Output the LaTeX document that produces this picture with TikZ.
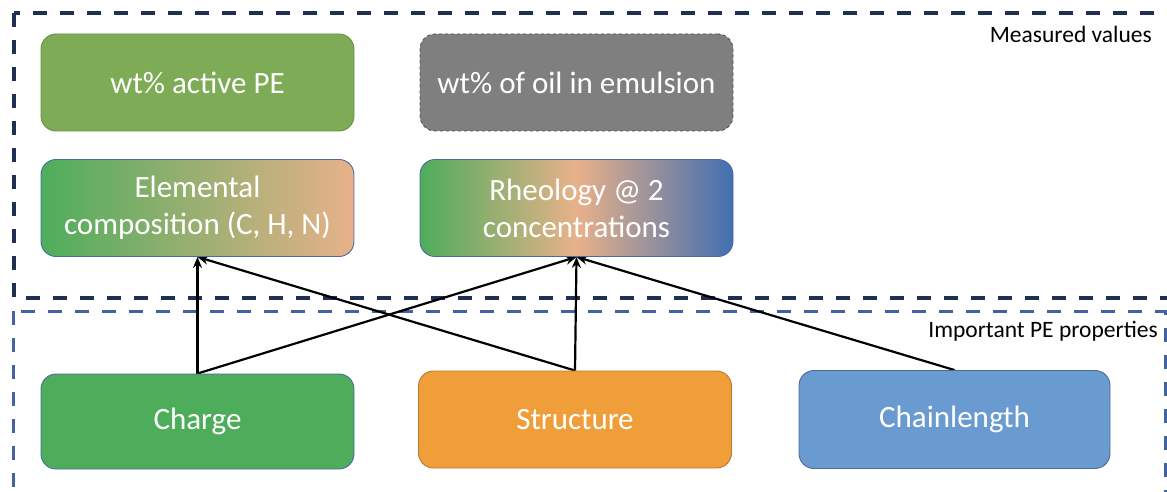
\documentclass[tikz,border=0pt]{standalone}
\usepackage{fontspec}
\setmainfont{Carlito}
\usetikzlibrary{arrows.meta}

\definecolor{frameA}{HTML}{1F3052}
\definecolor{frameB}{HTML}{4262A2}
\definecolor{leafgreen}{HTML}{7EAB55}
\definecolor{leafedge}{HTML}{6A9147}
\definecolor{slate}{HTML}{7F7F7F}
\definecolor{slateedge}{HTML}{505050}
\definecolor{grass}{HTML}{4EAD5B}
\definecolor{peach}{HTML}{E8B189}
\definecolor{steel}{HTML}{416FB0}
\definecolor{amber}{HTML}{F09E3A}
\definecolor{amberedge}{HTML}{B67B33}
\definecolor{sky}{HTML}{6A9BD0}
\definecolor{boxedge}{HTML}{4A6AA0}

\pgfdeclarelayer{frames}
\pgfdeclarelayer{links}
\pgfsetlayers{frames,links,main}

\tikzset{
  card/.style={rounded corners=15pt, minimum width=313pt, minimum height=97pt,
    text=white, align=center, font=\fontsize{31}{37}\selectfont,
    line width=0.9pt, inner sep=0pt},
  zone/.style={dash pattern=on 14pt off 13pt, line width=3.3pt},
  link/.style={line width=2.2pt, -{Stealth[length=11pt,width=9pt]}},
  tag/.style={font=\fontsize{23.5}{28}\selectfont, anchor=base east, inner sep=0pt}
}

\begin{document}
\begin{tikzpicture}[x=1pt,y=-1pt]
\useasboundingbox (0,0) rectangle (1167,492);
\clip (0,0) rectangle (1167,492);

% dashed grouping frames
\begin{pgfonlayer}{frames}
\draw[zone, frameA] (14,13) rectangle (1190,298);
\draw[zone, frameB, line width=3pt] (13,311) rectangle (1165,520);
\end{pgfonlayer}

\node[tag] (lblmeasured) at (1152,43) {Measured values};
\node[tag] (lblprops) at (1158,337) {Important PE properties};

% measured quantities
\node[card, fill=leafgreen, draw=leafedge] (active) at (197.5,82.5) {wt\% active PE};
\node[card, fill=slate, draw=slateedge, dashed] (oil) at (576.5,82.5) {wt\% of oil in emulsion};
\node[card, left color=grass, right color=peach, draw=boxedge] (elem) at (197.5,208)
  {Elemental\\composition (C, H, N)};
\node[card, left color=grass, right color=steel, middle color=peach, draw=boxedge] (rheo) at (576.5,208)
  {Rheology @ 2\\concentrations};

% polymer properties
\node[card, fill=grass, draw=boxedge, minimum height=95pt] (charge) at (197.5,421.5) {Charge};
\node[card, fill=amber, draw=amberedge] (struct) at (575,419.5) {Structure};
\node[card, fill=sky, draw=boxedge, minimum width=311pt, minimum height=98pt] (chain) at (954.5,419.5) {Chainlength};

% dependencies, drawn beneath the cards
\begin{pgfonlayer}{links}
\draw[link] (charge.north) -- (elem.south);
\draw[link] (charge.north) -- (rheo.south);
\draw[link] (struct.north) -- (elem.south);
\draw[link] (struct.north) -- (rheo.south);
\draw[link] (chain.north) -- (rheo.south);
\end{pgfonlayer}
\end{tikzpicture}
\end{document}
